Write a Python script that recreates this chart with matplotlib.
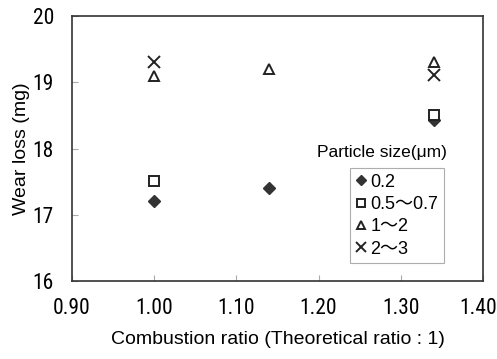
import matplotlib
matplotlib.use('Agg')
from matplotlib import pyplot as plt
from matplotlib import font_manager
from matplotlib.lines import Line2D
from matplotlib.transforms import ScaledTranslation

installed = set(f.name for f in font_manager.fontManager.ttflist)
narrow = None
for cand in ['Liberation Sans Narrow', 'DejaVu Sans Condensed', 'Roboto Condensed', 'Open Sans Condensed']:
	if cand in installed:
		narrow = cand
		break

plt.rcParams['font.family'] = ['Liberation Sans', 'Noto Sans CJK JP', 'DejaVu Sans']

# data
ratio = [1.00, 1.14, 1.34]
size_02 = [17.21, 17.41, 18.43]
size_05_07 = [17.51, None, 18.51]
size_1_2 = [19.10, 19.20, 19.31]
size_2_3 = [19.31, None, 19.11]

labels = ['0.2', '0.5\uff5e0.7', '1\uff5e2', '2\uff5e3']
xticks = [0.90, 1.00, 1.10, 1.20, 1.30, 1.40]
yticks = [16, 17, 18, 19, 20]

fig = plt.figure(figsize=(4.97, 3.59), dpi=100)
ax = fig.add_axes([0.1449, 0.2173, 0.8269, 0.7381])

def pts(xs, ys):
	px = [x for x, y in zip(xs, ys) if y is not None]
	py = [y for y in ys if y is not None]
	return px, py

styles = [
	dict(marker='D', markersize=6, color='#333333', markerfacecolor='#333333'),
	dict(marker='s', markersize=7, color='#222222', markerfacecolor='white', markeredgewidth=1.4),
	dict(marker='^', markersize=7, color='#222222', markerfacecolor='white', markeredgewidth=1.4),
	dict(marker='x', markersize=8, color='#222222', markeredgewidth=1.4),
]
series = [size_02, size_05_07, size_1_2, size_2_3]

handles = []
for ys, st, lab in zip(series, styles, labels):
	px, py = pts(ratio, ys)
	ax.plot(px, py, linestyle='none', zorder=3, **st)
	hs = dict(st)
	hs['markersize'] = st['markersize'] * 0.85
	handles.append(Line2D([], [], linestyle='none', **hs))

ax.set_xlim(0.90, 1.40)
ax.set_ylim(16, 20)
ax.set_xticks(xticks)
ax.set_xticklabels(['%.2f' % v for v in xticks])
ax.set_yticks(yticks)
ax.tick_params(direction='in', length=4, width=0.8, color='#aaaaaa')
ax.tick_params(axis='x', pad=12)
ax.tick_params(axis='y', pad=13)

if narrow:
	tick_font = dict(family=[narrow, 'DejaVu Sans'], size=15.5)
else:
	tick_font = dict(family=['Liberation Sans', 'DejaVu Sans'], size=13)
for t in ax.get_xticklabels() + ax.get_yticklabels():
	t.set_fontfamily(tick_font['family'])
	t.set_fontsize(tick_font['size'])

# last x label sits a little left of its tick so it stays inside the figure
last = ax.xaxis.get_major_ticks()[-1].label1
last.set_transform(last.get_transform() + ScaledTranslation(-5 / 100, 0, fig.dpi_scale_trans))

for sp in ax.spines.values():
	sp.set_color('#333333')
	sp.set_linewidth(1.2)

ax.set_xlabel('Combustion ratio (Theoretical ratio : 1)', fontsize=14, labelpad=9)
ax.set_ylabel('Wear loss (mg)', fontsize=14, labelpad=2)

ax.text(0.913, 0.455, 'Particle size(\u03bcm)', transform=ax.transAxes, fontsize=12.5,
	ha='right', va='bottom')

leg = ax.legend(handles, labels, loc='upper left', bbox_to_anchor=(0.676, 0.426),
	fontsize=13, frameon=True, fancybox=False, handlelength=0.6, handletextpad=0.25,
	borderpad=0.3, labelspacing=0.3, borderaxespad=0)
leg.get_frame().set_edgecolor('#999999')
leg.get_frame().set_linewidth(0.8)

fig.savefig('out.png', dpi=100)
